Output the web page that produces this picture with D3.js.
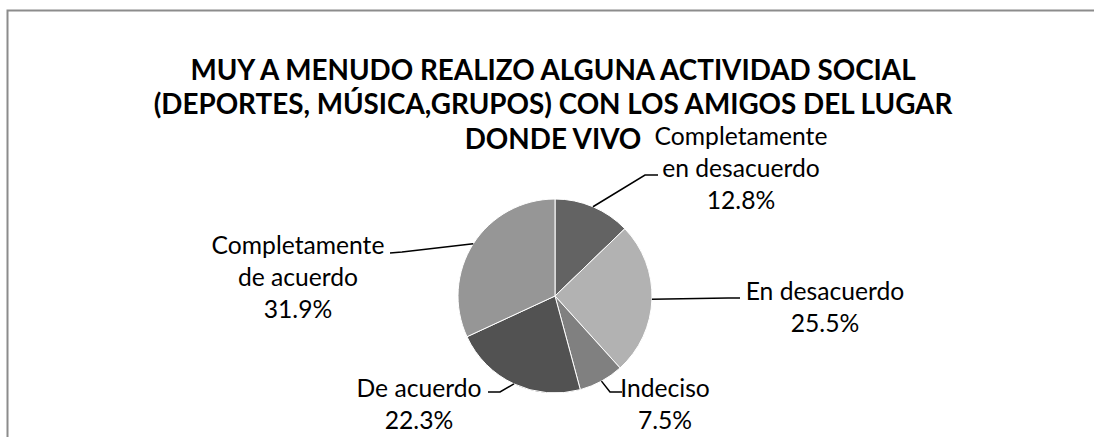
<!DOCTYPE html>
<html>
<head>
<meta charset="utf-8">
<script src="https://cdn.jsdelivr.net/npm/d3@7"></script>
<style>
  html, body { margin: 0; padding: 0; background: #fff; }
  svg { display: block; }
</style>
</head>
<body>
<svg id="chart" width="1094" height="437"></svg>
<script>
// ---- data ----
const titleLines = [
  "MUY A MENUDO REALIZO ALGUNA ACTIVIDAD SOCIAL",
  "(DEPORTES, MÚSICA,GRUPOS) CON LOS AMIGOS DEL LUGAR",
  "DONDE VIVO"
];
const categories = [
  "Completamente en desacuerdo",
  "En desacuerdo",
  "Indeciso",
  "De acuerdo",
  "Completamente de acuerdo"
];
const labelLines = [
  ["Completamente", "en desacuerdo"],
  ["En desacuerdo"],
  ["Indeciso"],
  ["De acuerdo"],
  ["Completamente", "de acuerdo"]
];
const values = [12.8, 25.5, 7.5, 22.3, 31.9];
const colors = ["#636363", "#b2b2b2", "#808080", "#525252", "#969696"];

// ---- layout (positions only) ----
const W = 1094, H = 437;
const cx = 555, cy = 296, R = 97;
const labelLayout = [
  { x: 741, y: 209, elbow: [645, 175], end: [658, 175] },
  { x: 825, y: 332, elbow: [728, 298], end: [740, 298] },
  { x: 665, y: 429, elbow: [610, 392], end: [622, 392] },
  { x: 419, y: 429, elbow: [500, 392], end: [488, 392] },
  { x: 298, y: 318, elbow: [402, 252], end: [390, 253] }
];
const lineH = 32;

const svg = d3.select("#chart");

// frame
svg.append("path")
  .attr("d", `M7.5,${H + 5} L7.5,10.5 L${W + 5},10.5`)
  .attr("fill", "none")
  .attr("stroke", "#8c8c8c")
  .attr("stroke-width", 2);

// title
const titleG = svg.append("g")
  .attr("font-family", "Lato, 'Open Sans', sans-serif")
  .attr("font-weight", 700)
  .attr("fill", "#000")
  .attr("text-anchor", "middle");
const titleY = [80, 114, 149];
const titleTexts = titleG.selectAll("text").data(titleLines).join("text")
  .attr("x", 553)
  .attr("y", (d, i) => titleY[i])
  .attr("font-size", 25)
  .text(d => d);
const t2 = titleTexts.nodes()[1].getComputedTextLength();
const tSize = 25 * 799 / t2;
titleTexts.attr("font-size", tSize);

// pie
const pie = d3.pie().sort(null).value(d => d);
const arcs = pie(values);
const arc = d3.arc().innerRadius(0).outerRadius(R);
const pieG = svg.append("g").attr("transform", `translate(${cx},${cy})`);
pieG.selectAll("path").data(arcs).join("path")
  .attr("d", arc)
  .attr("fill", (d, i) => colors[i])
  .attr("stroke", "#ffffff")
  .attr("stroke-width", 1);

// leader lines
const edge = d3.arc().innerRadius(R).outerRadius(R);
svg.append("g").selectAll("polyline").data(arcs).join("polyline")
  .attr("points", (d, i) => {
    const c = edge.centroid(d);
    const L = labelLayout[i];
    return [[cx + c[0], cy + c[1]], L.elbow, L.end].map(p => p.join(",")).join(" ");
  })
  .attr("fill", "none")
  .attr("stroke", "#000")
  .attr("stroke-width", 1.5);

// labels
const labG = svg.append("g")
  .attr("font-family", "Lato, 'Open Sans', sans-serif")
  .attr("fill", "#000")
  .attr("text-anchor", "middle");
const fmt = d3.format(".1f");
const allLabelTexts = [];
arcs.forEach((d, i) => {
  const L = labelLayout[i];
  const lines = labelLines[i].concat([fmt(values[i]) + "%"]);
  const n = lines.length;
  lines.forEach((s, j) => {
    const t = labG.append("text")
      .attr("x", L.x)
      .attr("y", L.y - (n - 1 - j) * lineH)
      .attr("font-size", 24)
      .text(s);
    allLabelTexts.push(t);
  });
});
const ref = allLabelTexts[0].node().getComputedTextLength();
const lSize = 24 * 173 / ref;
allLabelTexts.forEach(t => t.attr("font-size", lSize));
</script>
</body>
</html>
